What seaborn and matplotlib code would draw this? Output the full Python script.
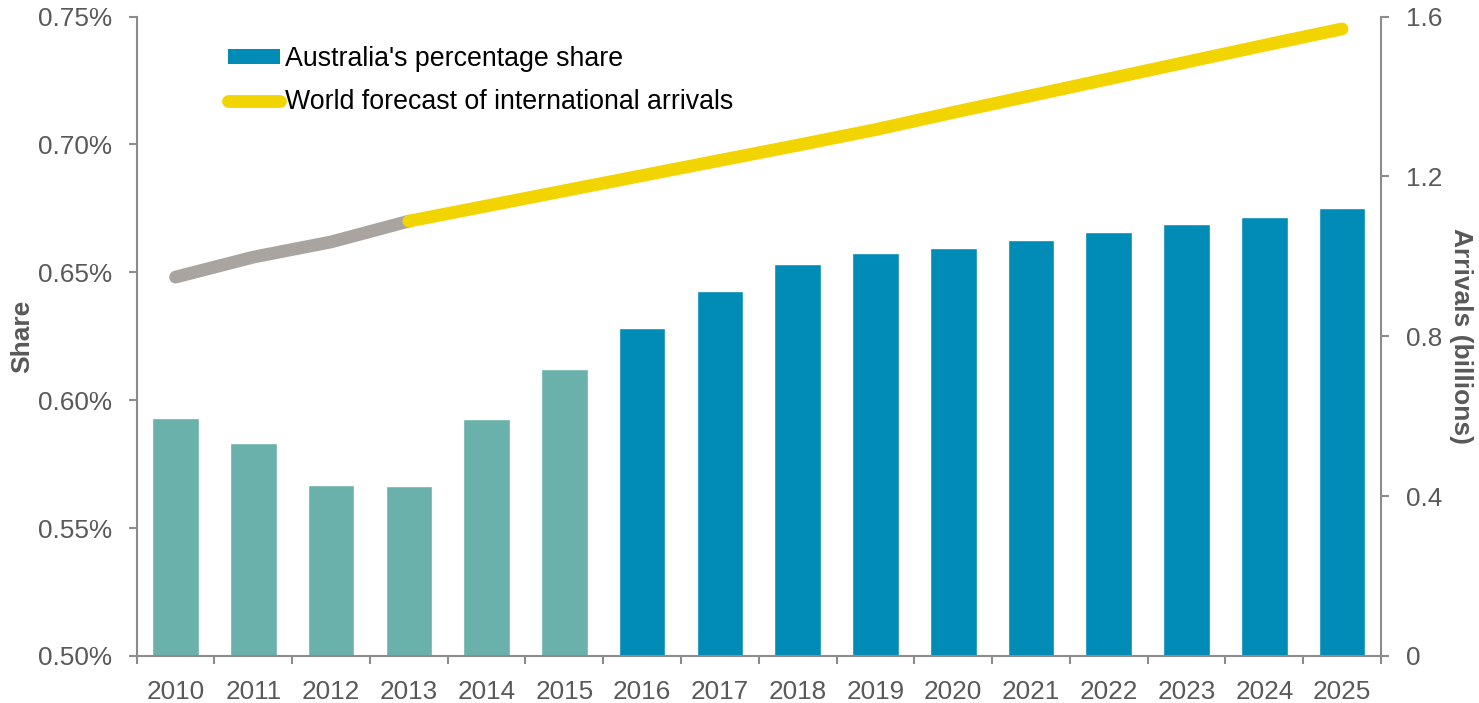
import numpy as np
import pandas as pd
import matplotlib
matplotlib.use("Agg")
import matplotlib.pyplot as plt
from matplotlib.patches import Patch
from matplotlib.lines import Line2D
from matplotlib.ticker import FuncFormatter
import seaborn as sns

# ---- data -------------------------------------------------------------
years = ["2010", "2011", "2012", "2013", "2014", "2015", "2016", "2017",
         "2018", "2019", "2020", "2021", "2022", "2023", "2024", "2025"]
# Australia's share of world international arrivals (%)
share_pct = [0.5931, 0.5834, 0.5670, 0.5663, 0.5928, 0.6122, 0.6281, 0.6426,
             0.6532, 0.6574, 0.6594, 0.6625, 0.6656, 0.6687, 0.6715, 0.6750]
# World international arrivals (billions)
arrivals_bn = [0.948, 0.998, 1.036, 1.088, 1.126, 1.164, 1.202, 1.240,
               1.278, 1.317, 1.360, 1.402, 1.444, 1.486, 1.528, 1.569]
last_actual_share_year = "2015"   # bars after this year are forecasts
last_actual_arrivals_year = "2013"  # line after this year is a forecast

left_ticks = [0.50, 0.55, 0.60, 0.65, 0.70, 0.75]
right_ticks = [0, 0.4, 0.8, 1.2, 1.6]

legend_labels = ["Australia's percentage share",
                 "World forecast of international arrivals"]

# ---- style ------------------------------------------------------------
TEAL = "#6BB1AB"
BLUE = "#018BB7"
YELLOW = "#F2D500"
GREY_LINE = "#A9A49F"
AXIS_GREY = "#8C8C8C"
TEXT_GREY = "#595959"
TICK_FS = 18.8
LABEL_FS = 19
LEGEND_FS = 19.3

sns.set_theme(style="white")
plt.rcParams["font.family"] = ["Liberation Sans", "DejaVu Sans"]

pos = np.arange(len(years))
df = pd.DataFrame({"year": years, "share": share_pct,
                   "arrivals": arrivals_bn, "pos": pos})
split_share = years.index(last_actual_share_year)
split_arr = years.index(last_actual_arrivals_year)
bar_colors = [TEAL if i <= split_share else BLUE for i in pos]

fig = plt.figure(figsize=(14.79, 7.03), dpi=100)
ax = fig.add_axes([0.0924, 0.0669, 0.8413, 0.9096])

sns.barplot(data=df, x="year", y="share", hue="year", palette=bar_colors,
            legend=False, width=0.6, saturation=1, ax=ax, zorder=2)
ax.set_ylim(0.50, 0.75)
ax.set_xlim(-0.5, len(years) - 0.5)

ax2 = ax.twinx()
hist = df.iloc[: split_arr + 1]
fcst = df.iloc[split_arr:]
sns.lineplot(data=hist, x="pos", y="arrivals", color=GREY_LINE, lw=9.2,
             ax=ax2, solid_capstyle="round", solid_joinstyle="round")
sns.lineplot(data=fcst, x="pos", y="arrivals", color=YELLOW, lw=9.2,
             ax=ax2, solid_capstyle="round", solid_joinstyle="round")
ax2.set_ylim(0, 1.6)
ax2.set_xlim(-0.5, len(years) - 0.5)

# ---- axes formatting --------------------------------------------------
for a in (ax, ax2):
    a.spines["top"].set_visible(False)
    for side in ("left", "right", "bottom"):
        a.spines[side].set_color(AXIS_GREY)
        a.spines[side].set_linewidth(1.5)
ax.spines["right"].set_visible(False)
ax2.spines["left"].set_visible(False)
ax2.spines["bottom"].set_visible(False)

ax.set_yticks(left_ticks)
ax.yaxis.set_major_formatter(FuncFormatter(lambda v, _: f"{v:.2f}%"))
ax.tick_params(axis="y", direction="out", length=6, width=1.5,
               color=AXIS_GREY, labelcolor=TEXT_GREY, labelsize=TICK_FS,
               pad=12, left=True)

ax2.set_yticks(right_ticks)
ax2.yaxis.set_major_formatter(
    FuncFormatter(lambda v, _: "0" if v == 0 else f"{v:.1f}"))
ax2.tick_params(axis="y", direction="out", length=6, width=1.5,
                color=AXIS_GREY, labelcolor=TEXT_GREY, labelsize=TICK_FS,
                pad=12, right=True)

# category labels centred under bars, tick marks between categories
ax.set_xticks(pos)
ax.set_xticklabels(years)
ax.set_xticks(np.arange(-0.5, len(years), 1.0), minor=True)
ax.tick_params(axis="x", which="major", length=0, labelcolor=TEXT_GREY,
               labelsize=TICK_FS, pad=17)
ax.tick_params(axis="x", which="minor", direction="out", length=6, width=1.5,
               color=AXIS_GREY, bottom=True)
ax.set_xlabel("")

ax.set_ylabel("Share", fontsize=LABEL_FS, fontweight="bold",
              color=TEXT_GREY, va="center")
ax.yaxis.set_label_coords(-0.0916, 0.5)
ax2.set_ylabel("Arrivals (billions)", fontsize=LABEL_FS, fontweight="bold",
               color=TEXT_GREY, rotation=270, va="center")
ax2.yaxis.set_label_coords(1.0643, 0.5)

# ---- legend -----------------------------------------------------------
handles = [Patch(facecolor=BLUE, edgecolor="none"),
           Line2D([0], [0], color=YELLOW, lw=9.2, solid_capstyle="round")]
ax2.legend(handles, legend_labels, loc="upper left",
           bbox_to_anchor=(0.154, 0.9346), bbox_transform=fig.transFigure,
           frameon=False, borderpad=0, borderaxespad=0, handlelength=1.94,
           handleheight=0.51, handletextpad=0.19, labelspacing=0.645,
           fontsize=LEGEND_FS, labelcolor="black")

fig.savefig("out.png", dpi=100)
